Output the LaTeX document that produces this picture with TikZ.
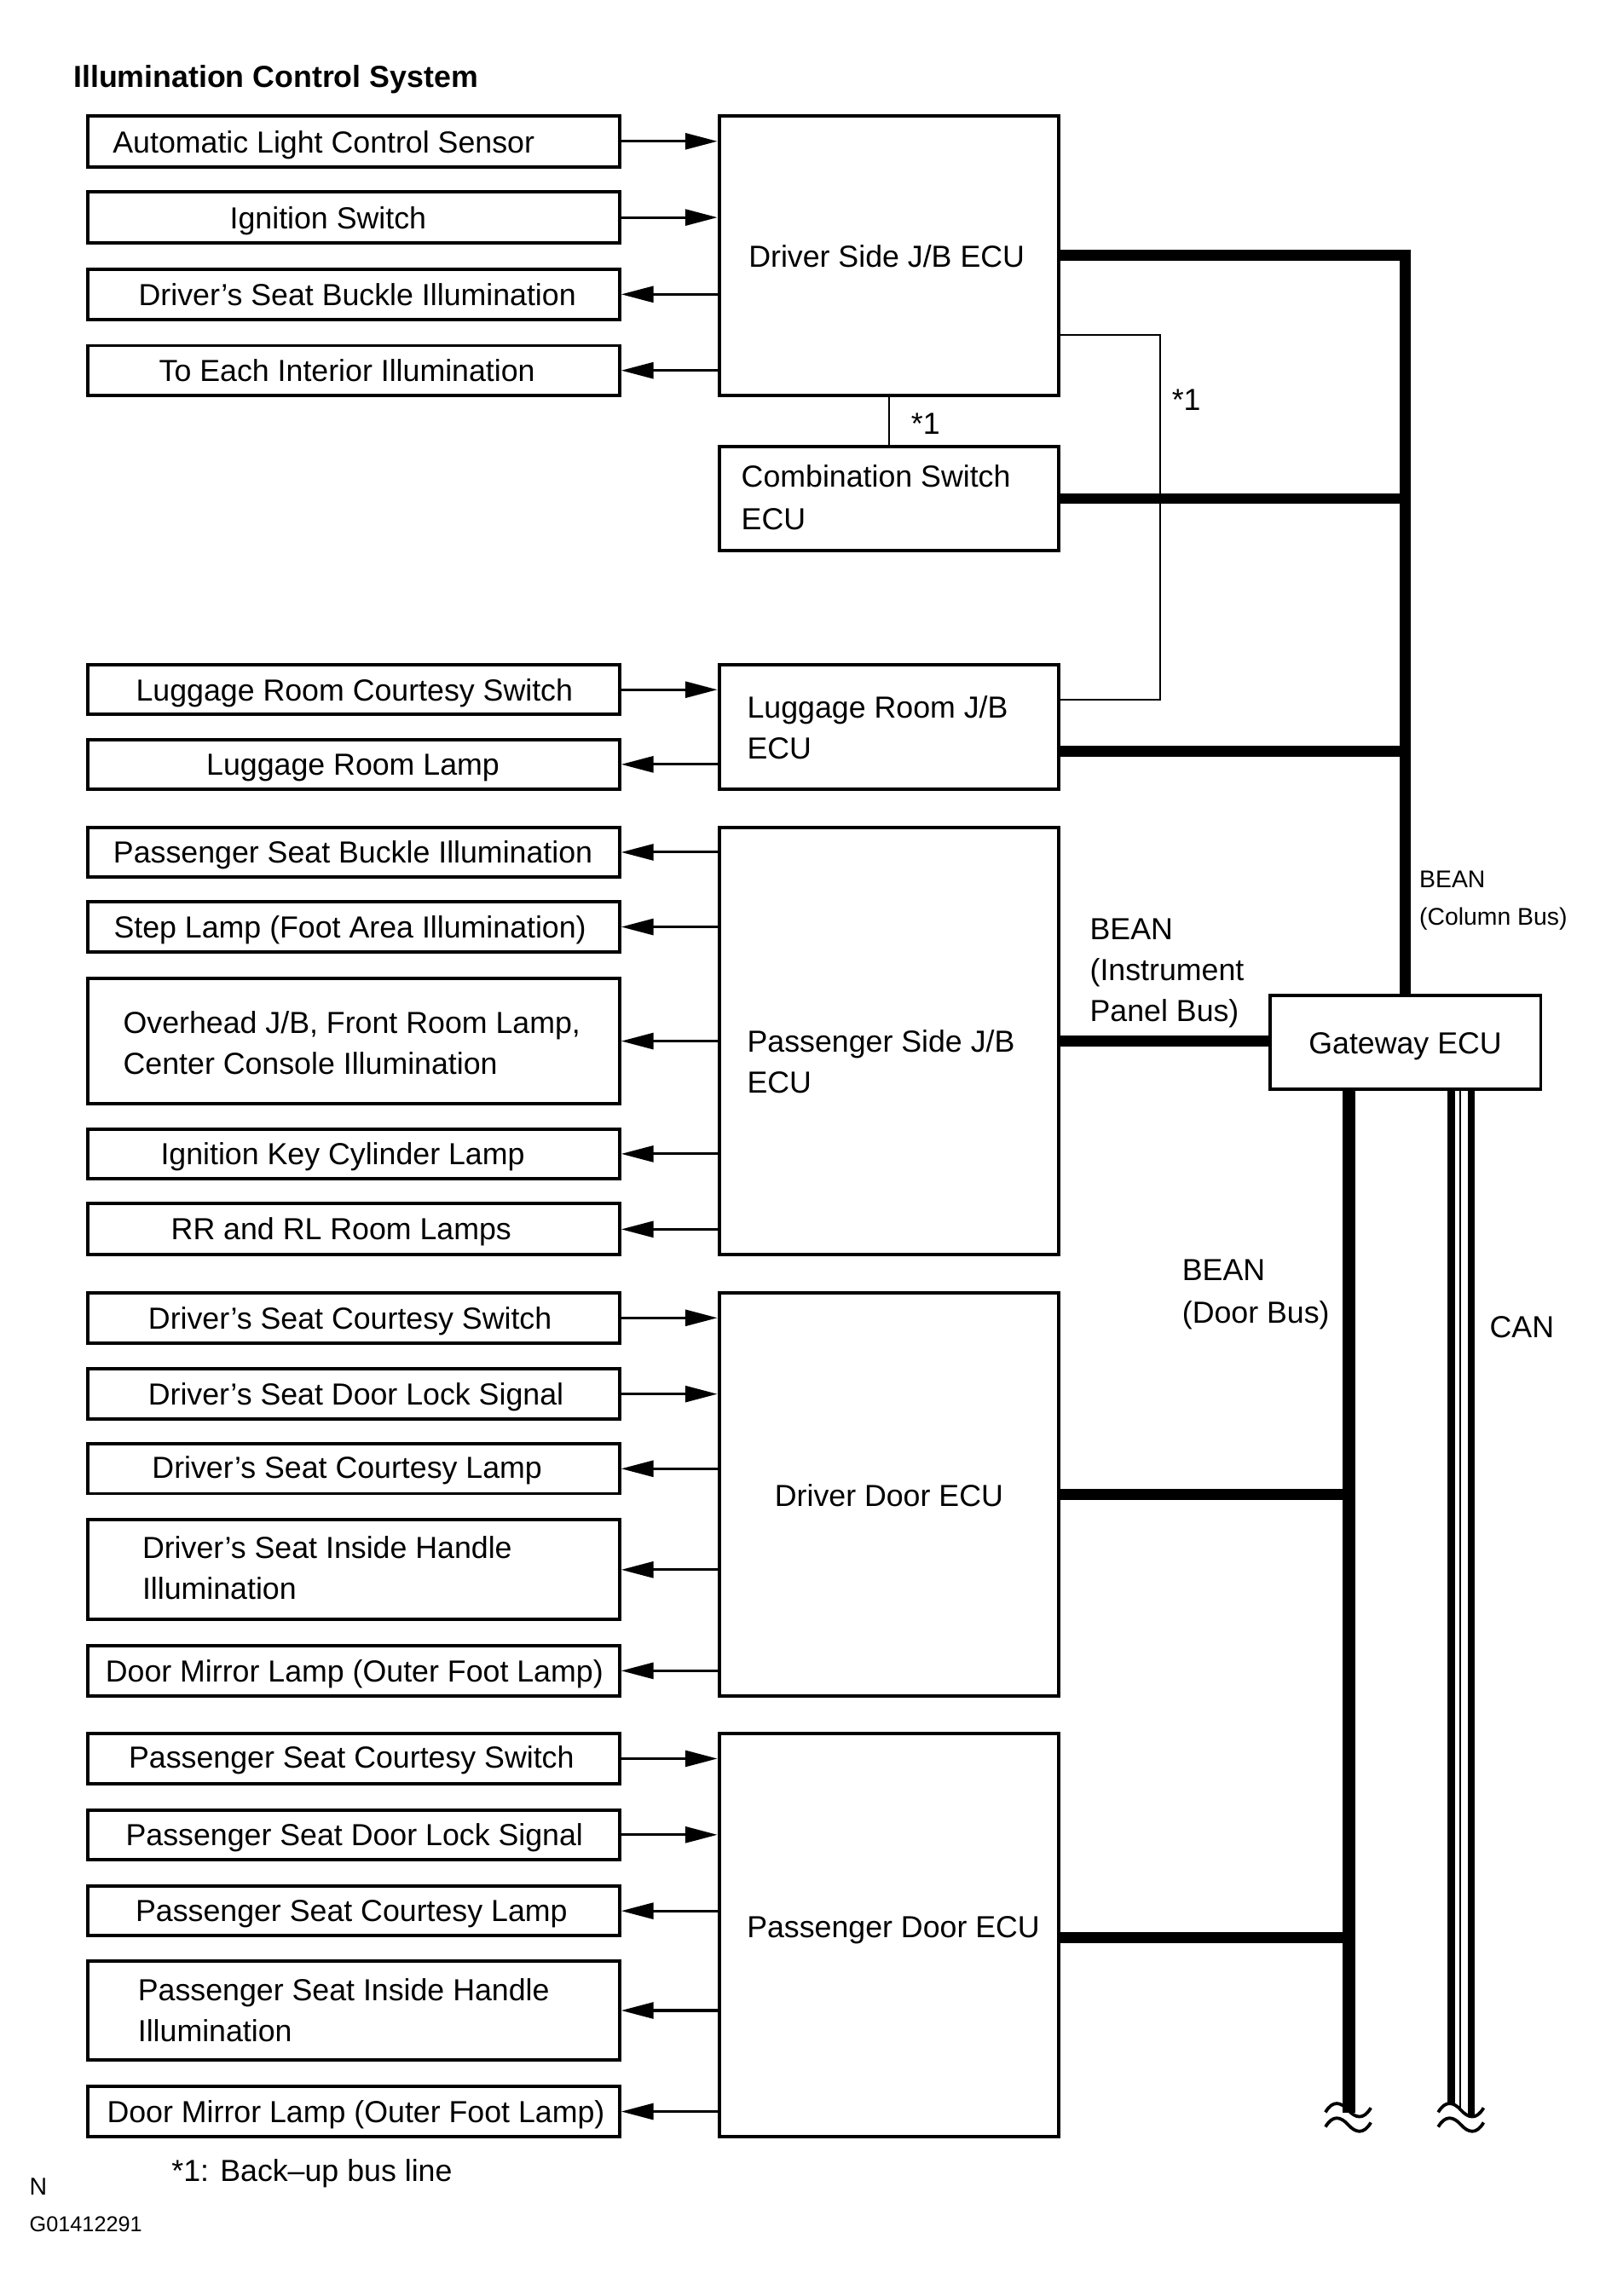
\documentclass[tikz,border=0pt]{standalone}
\usepackage{fontspec}
\setmainfont{Liberation Sans}
\usetikzlibrary{arrows.meta}
\begin{document}
\begin{tikzpicture}[x=1pt,y=-1pt,
  font=\fontsize{20.8}{24}\selectfont,
  lbox/.style={draw, line width=2.3pt, minimum width=363pt, inner sep=0pt},
  ecu/.style={draw, line width=2.3pt, minimum width=232pt, inner sep=0pt},
  txt/.style={inner sep=0pt, text height=14.9pt, text depth=0pt},
  smalltxt/.style={inner sep=0pt, text height=11.8pt, text depth=0pt, font=\fontsize{16.5}{19}\selectfont},
  arr/.style={line width=1.8pt, -{Triangle[length=22pt,width=11pt]}},
  bus/.style={line width=7.5pt},
  doorbus/.style={line width=8.5pt},
  backup/.style={line width=1.2pt},
  brk/.pic={\draw[line width=2.2pt] (-15.5,1.5) .. controls (-10.5,-7) and (-5,-5.5) .. (0,0) .. controls (5,5.5) and (10.5,7) .. (15.5,-1.5);}
]
\useasboundingbox (0,0) rectangle (1092,1568);
\fill[white] (0,0) rectangle (1092,1568);

% title
\node[txt, anchor=west, font=\fontsize{20.8}{24}\selectfont\bfseries] (title) at (50,52) {Illumination Control System};

% ECU boxes
\node[ecu, minimum height=191pt] (A) at (607,174.5) {};
\node[ecu, minimum height=71pt] (B) at (607,340.5) {};
\node[ecu, minimum height=85pt] (C) at (607,496.5) {};
\node[ecu, minimum height=292pt] (D) at (607,711) {};
\node[ecu, minimum height=275pt] (E) at (607,1020.5) {};
\node[ecu, minimum height=275pt] (F) at (607,1321.5) {};
\node[draw, line width=2.3pt, minimum width=185pt, minimum height=64pt, inner sep=0pt] (G) at (959.5,712) {};

\node[txt, anchor=west] (tA) at (511,175) {Driver Side J/B ECU};
\node[txt, anchor=west] (tB1) at (506,325) {Combination Switch};
\node[txt, anchor=west] (tB2) at (506,354) {ECU};
\node[txt, anchor=west] (tC1) at (510,483) {Luggage Room J/B};
\node[txt, anchor=west] (tC2) at (510,511) {ECU};
\node[txt, anchor=west] (tD1) at (510,711) {Passenger Side J/B};
\node[txt, anchor=west] (tD2) at (510,739) {ECU};
\node[txt] (tE) at (607,1021) {Driver Door ECU};
\node[txt] (tF) at (610,1316) {Passenger Door ECU};
\node[txt] (tG) at (959.5,712) {Gateway ECU};

% left boxes
\node[lbox, minimum height=35pt] (b1) at (241.5,96.5) {};
\node[lbox, minimum height=35pt] (b2) at (241.5,148.5) {};
\node[lbox, minimum height=34pt] (b3) at (241.5,201) {};
\node[lbox, minimum height=34pt] (b4) at (241.5,253) {};
\node[lbox, minimum height=34pt] (b5) at (241.5,471) {};
\node[lbox, minimum height=34pt] (b6) at (241.5,522) {};
\node[lbox, minimum height=34pt] (b7) at (241.5,582) {};
\node[lbox, minimum height=34pt] (b8) at (241.5,633) {};
\node[lbox, minimum height=86pt] (b9) at (241.5,711) {};
\node[lbox, minimum height=34pt] (b10) at (241.5,788) {};
\node[lbox, minimum height=35pt] (b11) at (241.5,839.5) {};
\node[lbox, minimum height=34pt] (b12) at (241.5,900) {};
\node[lbox, minimum height=34pt] (b13) at (241.5,952) {};
\node[lbox, minimum height=34pt] (b14) at (241.5,1003) {};
\node[lbox, minimum height=68pt] (b15) at (241.5,1072) {};
\node[lbox, minimum height=34pt] (b16) at (241.5,1141) {};
\node[lbox, minimum height=34pt] (b17) at (241.5,1201) {};
\node[lbox, minimum height=34pt] (b18) at (241.5,1253) {};
\node[lbox, minimum height=34pt] (b19) at (241.5,1305) {};
\node[lbox, minimum height=68pt] (b20) at (241.5,1373) {};
\node[lbox, minimum height=34pt] (b21) at (241.5,1442) {};

\node[txt] (t1) at (221,97) {Automatic Light Control Sensor};
\node[txt] (t2) at (224,149) {Ignition Switch};
\node[txt] (t3) at (244,201) {Driver’s Seat Buckle Illumination};
\node[txt] (t4) at (237,253) {To Each Interior Illumination};
\node[txt] (t5) at (242,471) {Luggage Room Courtesy Switch};
\node[txt] (t6) at (241,522) {Luggage Room Lamp};
\node[txt] (t7) at (241,582) {Passenger Seat Buckle Illumination};
\node[txt] (t8) at (239,633) {Step Lamp (Foot Area Illumination)};
\node[txt, anchor=west] (t9a) at (84,698) {Overhead J/B, Front Room Lamp,};
\node[txt, anchor=west] (t9b) at (84,726) {Center Console Illumination};
\node[txt] (t10) at (234,788) {Ignition Key Cylinder Lamp};
\node[txt] (t11) at (233,839) {RR and RL Room Lamps};
\node[txt] (t12) at (239,900) {Driver’s Seat Courtesy Switch};
\node[txt] (t13) at (243,952) {Driver’s Seat Door Lock Signal};
\node[txt] (t14) at (237,1002) {Driver’s Seat Courtesy Lamp};
\node[txt, anchor=west] (t15a) at (97,1057) {Driver’s Seat Inside Handle};
\node[txt, anchor=west] (t15b) at (97,1085) {Illumination};
\node[txt] (t16) at (242,1141) {Door Mirror Lamp (Outer Foot Lamp)};
\node[txt] (t17) at (240,1200) {Passenger Seat Courtesy Switch};
\node[txt] (t18) at (242,1253) {Passenger Seat Door Lock Signal};
\node[txt] (t19) at (240,1305) {Passenger Seat Courtesy Lamp};
\node[txt, anchor=west] (t20a) at (94,1359) {Passenger Seat Inside Handle};
\node[txt, anchor=west] (t20b) at (94,1387) {Illumination};
\node[txt] (t21) at (243,1442) {Door Mirror Lamp (Outer Foot Lamp)};

% arrows into ECUs
\draw[arr] (b1.east) -- (b1.east -| A.west);
\draw[arr] (b2.east) -- (b2.east -| A.west);
\draw[arr] (b3.east -| A.west) -- (b3.east);
\draw[arr] (b4.east -| A.west) -- (b4.east);
\draw[arr] (b5.east) -- (b5.east -| C.west);
\draw[arr] (b6.east -| C.west) -- (b6.east);
\draw[arr] (b7.east -| D.west) -- (b7.east);
\draw[arr] (b8.east -| D.west) -- (b8.east);
\draw[arr] (b9.east -| D.west) -- (b9.east);
\draw[arr] (b10.east -| D.west) -- (b10.east);
\draw[arr] (b11.east -| D.west) -- (b11.east);
\draw[arr] (b12.east) -- (b12.east -| E.west);
\draw[arr] (b13.east) -- (b13.east -| E.west);
\draw[arr] (b14.east -| E.west) -- (b14.east);
\draw[arr] (b15.east -| E.west) -- (b15.east);
\draw[arr] (b16.east -| E.west) -- (b16.east);
\draw[arr] (b17.east) -- (b17.east -| F.west);
\draw[arr] (b18.east) -- (b18.east -| F.west);
\draw[arr] (b19.east -| F.west) -- (b19.east);
\draw[arr] (b20.east -| F.west) -- (b20.east);
\draw[arr] (b21.east -| F.west) -- (b21.east);

% back-up bus lines
\draw[backup] (A.south) -- (B.north);
\coordinate (bk) at (792,478);
\draw[backup] ([yshift=-54.5pt]A.east) -| (bk) -- (bk -| C.east);
\node[txt] (s1) at (632,289) {*1};
\node[txt] (s2) at (810,273) {*1};

% column bus
\draw[bus] (A.east) -| (G.north);
\draw[bus] (B.east) -- (B.east -| G.north);
\draw[bus] ([yshift=-16.5pt]C.east) -- ([yshift=-16.5pt]C.east -| G.north);
% instrument panel bus
\draw[bus] (D.east) -- (D.east -| G.west);

% door bus
\coordinate (db) at (921,1443);
\draw[doorbus] (G.south -| db) -- (db);
\draw[bus] (E.east) -- (E.east -| db);
\draw[bus] ([yshift=-1.5pt]F.east) -- ([yshift=-1.5pt]F.east -| db);

% CAN
\coordinate (can1) at (991,1437);
\coordinate (can2) at (997,1441);
\coordinate (can3) at (1004.5,1445);
\draw[line width=5.5pt] (G.south -| can1) -- (can1);
\draw[line width=1.5pt] (G.south -| can2) -- (can2);
\draw[line width=5pt] (G.south -| can3) -- (can3);

% breaks
\pic at (920.5,1441) {brk};
\pic at (920.5,1451) {brk};
\pic at (997.5,1441) {brk};
\pic at (997.5,1451) {brk};

% bus labels
\node[txt, anchor=west] (l1) at (744,634) {BEAN};
\node[txt, anchor=west] (l2) at (744,662) {(Instrument};
\node[txt, anchor=west] (l3) at (744,690) {Panel Bus)};
\node[smalltxt, anchor=west] (l4) at (969,600) {BEAN};
\node[smalltxt, anchor=west] (l5) at (969,626) {(Column Bus)};
\node[txt, anchor=west] (l6) at (807,867) {BEAN};
\node[txt, anchor=west] (l7) at (807,896) {(Door Bus)};
\node[txt, anchor=west] (l8) at (1017,906) {CAN};

% footnotes
\node[txt, anchor=west] (fn) at (117,1482) {*1: Back–up bus line};
\node[smalltxt, anchor=west, font=\fontsize{16.6}{19}\selectfont] (nn) at (20,1493) {N};
\node[inner sep=0pt, text height=10.5pt, text depth=0pt, anchor=west, font=\fontsize{14.7}{17}\selectfont] (gid) at (20,1519) {G01412291};
\end{tikzpicture}
\end{document}
